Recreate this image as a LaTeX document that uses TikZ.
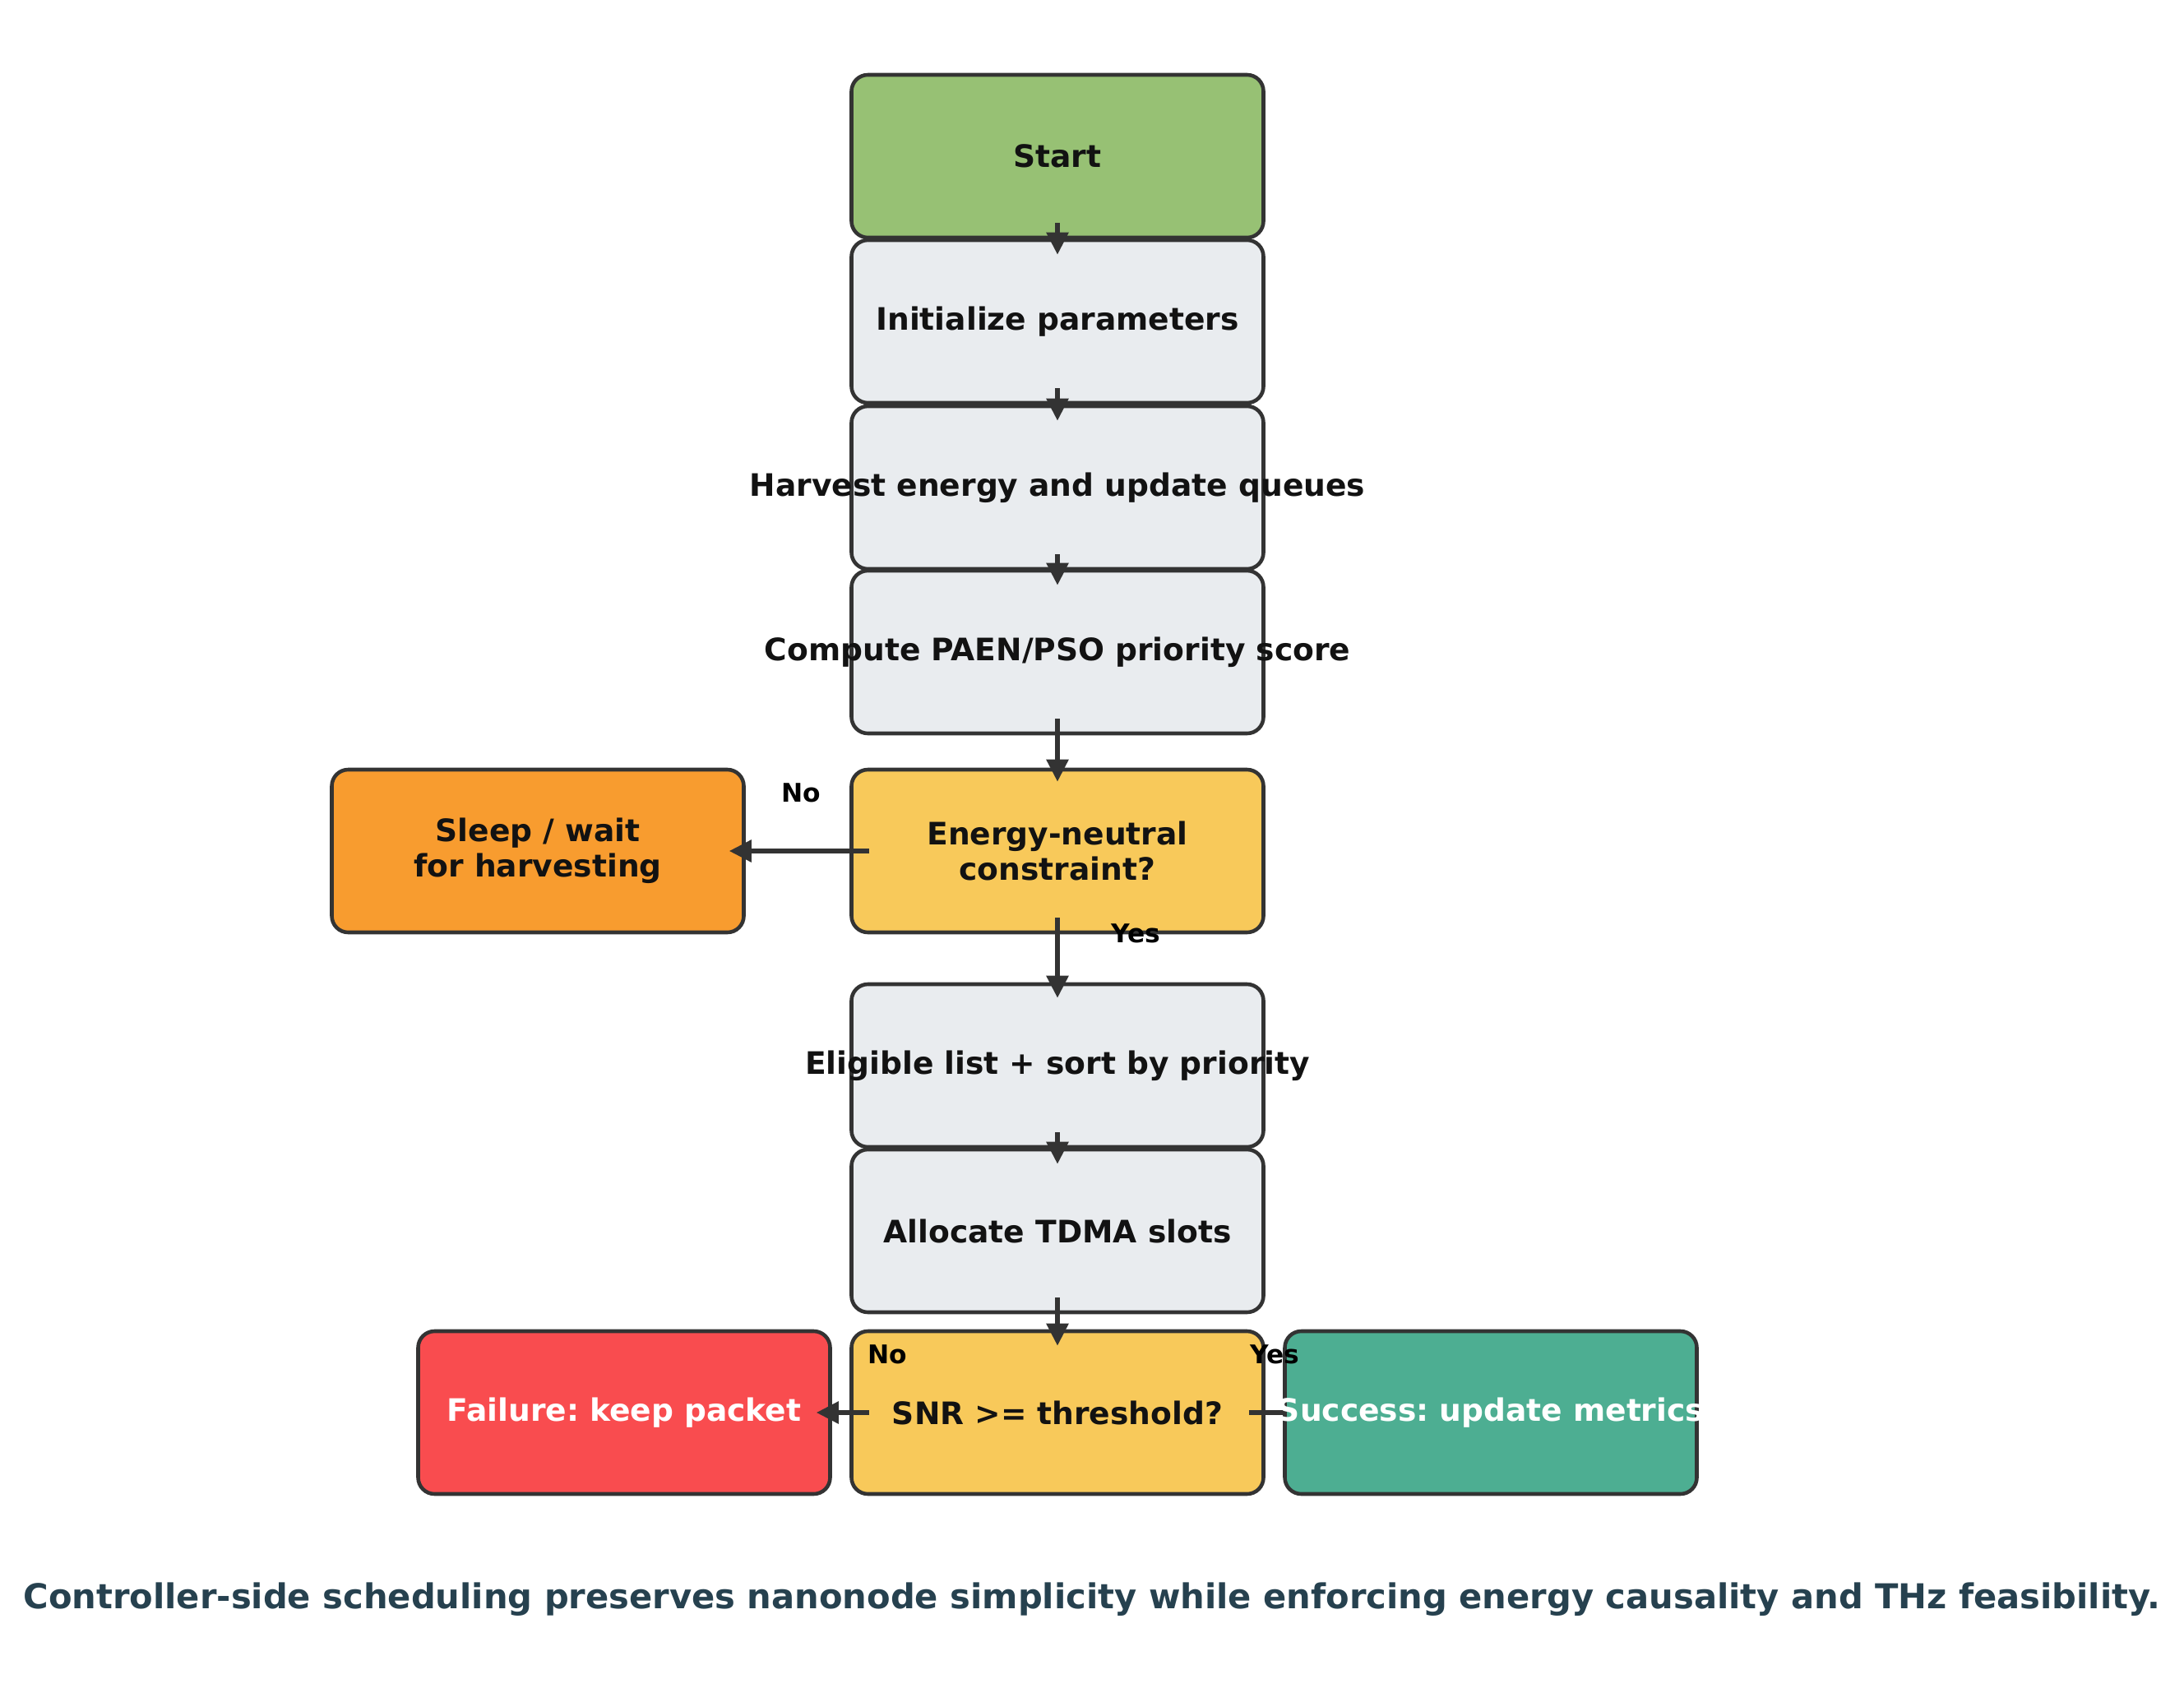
\documentclass[tikz,border=0pt]{standalone}
\usepackage{fontspec}
\setmainfont{DejaVu Sans}
\usepackage{tikz}
\usetikzlibrary{positioning,arrows.meta}
\frenchspacing

\definecolor{edgegray}{HTML}{333333}
\definecolor{startgreen}{HTML}{97C174}
\definecolor{stepgray}{HTML}{E9ECEF}
\definecolor{askyellow}{HTML}{F8C95A}
\definecolor{sleeporange}{HTML}{F89C2F}
\definecolor{failred}{HTML}{F94C4F}
\definecolor{okteal}{HTML}{4DAE92}
\definecolor{captionblue}{HTML}{26414F}

% text that may run past the box edge
\newcommand{\overrun}[1]{\makebox[4.4cm]{#1}}

\begin{document}
\begin{tikzpicture}[
  box/.style={draw=edgegray, line width=1.3pt, rounded corners=0.2cm,
    minimum width=5.01cm, minimum height=1.98cm, align=center,
    text=black!93, font=\bfseries\fontsize{10.7}{12.2}\selectfont},
  flow/.style={draw=edgegray, line width=1.6pt,
    -{Triangle[length=0.27cm,width=0.26cm]}},
  lab/.style={font=\bfseries\fontsize{8.9}{10}\selectfont}
]
\useasboundingbox (0,0) rectangle (26.56,-20.70);

% Main column
\node[box, fill=startgreen] (start) at (12.86,-1.90) {Start};
\node[box, fill=stepgray] (init) at (12.86,-3.91) {Initialize parameters};
\node[box, fill=stepgray] (harvest) at (12.86,-5.93) {\overrun{Harvest energy and update queues}};
\node[box, fill=stepgray] (score) at (12.86,-7.93) {\overrun{Compute PAEN/PSO priority score}};
\node[box, fill=askyellow] (neutral) at (12.86,-10.35) {Energy-neutral\\constraint?};
\node[box, fill=stepgray] (sortlist) at (12.86,-12.96) {\overrun{Eligible list + sort by priority}};
\node[box, fill=stepgray] (tdma) at (12.86,-14.97) {Allocate TDMA slots};
\node[box, fill=askyellow] (snr) at (12.86,-17.18) {SNR >= threshold?};

% Side boxes
\node[box, fill=sleeporange] (sleep) at (6.54,-10.35) {Sleep / wait\\for harvesting};
\node[box, fill=failred, text=white] (fail) at (7.59,-17.18) {Failure: keep packet};
\node[box, fill=okteal, text=white] (success) at (18.13,-17.18) {\overrun{Success: update metrics}};

% Arrows
\draw[flow] ([yshift=0.2cm]start.south) -- ([yshift=-0.2cm]init.north);
\draw[flow] ([yshift=0.2cm]init.south) -- ([yshift=-0.2cm]harvest.north);
\draw[flow] ([yshift=0.2cm]harvest.south) -- ([yshift=-0.2cm]score.north);
\draw[flow] ([yshift=0.2cm]score.south) -- ([yshift=-0.17cm]neutral.north);
\draw[flow] ([xshift=0.24cm]neutral.west) -- ([xshift=-0.2cm]sleep.east);
\draw[flow] ([yshift=0.2cm]neutral.south) -- ([yshift=-0.19cm]sortlist.north);
\draw[flow] ([yshift=0.2cm]sortlist.south) -- ([yshift=-0.2cm]tdma.north);
\draw[flow] ([yshift=0.2cm]tdma.south) -- ([yshift=-0.2cm]snr.north);
\draw[flow] ([xshift=0.24cm]snr.west) -- ([xshift=-0.19cm]fail.east);
\draw[draw=edgegray, line width=1.6pt] ([xshift=-0.2cm]snr.east) -- (success.west); % head hidden behind the box

% Branch labels
\node[lab] (nosleep) at (9.74,-9.64) {No};
\node[lab] (yesgo) at (13.81,-11.35) {Yes};
\node[lab] (nofail) at (10.79,-16.47) {No};
\node[lab] (yesok) at (15.50,-16.47) {Yes};

% Caption
\node[text=captionblue, font=\bfseries\fontsize{11.85}{14}\selectfont] (caption) at (13.28,-19.45)
  {Controller-side scheduling preserves nanonode simplicity while enforcing energy causality and THz feasibility.};
\end{tikzpicture}
\end{document}
